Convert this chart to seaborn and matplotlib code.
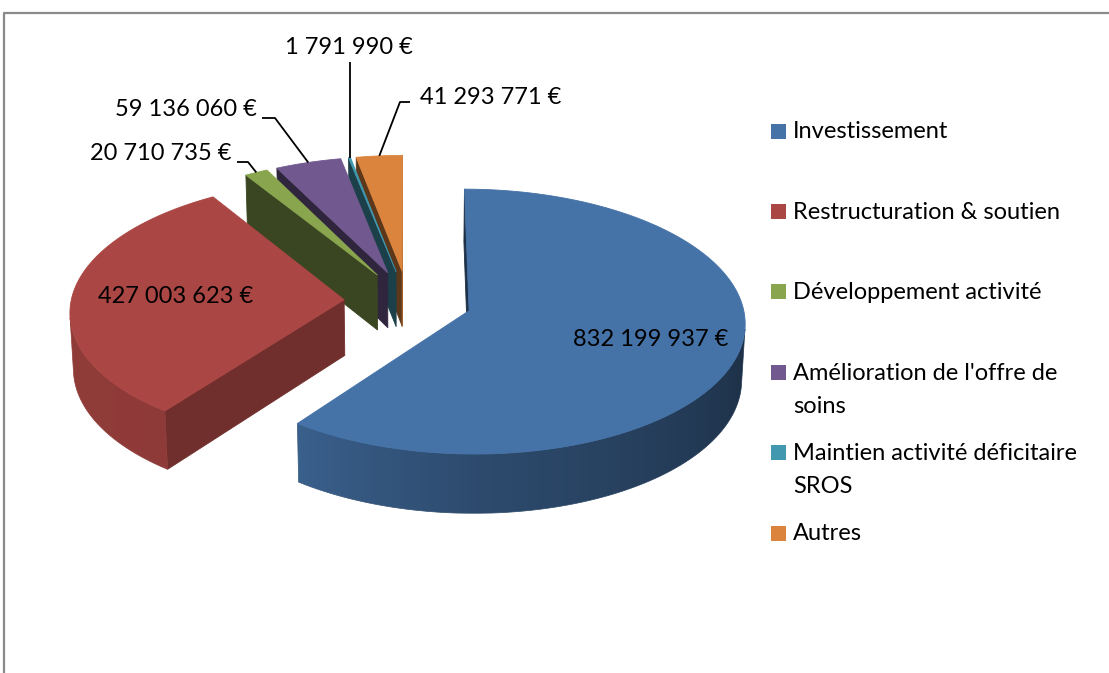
import numpy as np
import matplotlib
matplotlib.use("Agg")
import matplotlib.pyplot as plt
import matplotlib.colors as mcolors
from matplotlib.patches import Polygon, Rectangle
import seaborn as sns

# ---------------- data ----------------
categories = ["Investissement", "Restructuration & soutien", "Développement activité",
              "Amélioration de l'offre de soins", "Maintien activité déficitaire SROS", "Autres"]
legend_labels = ["Investissement", "Restructuration & soutien", "Développement activité",
                 "Amélioration de l'offre de\nsoins", "Maintien activité déficitaire\nSROS", "Autres"]
values = [832199937, 427003623, 20710735, 59136060, 1791990, 41293771]
colors = ["#4572A7", "#AA4643", "#89A54E", "#71588F", "#4198AF", "#DB843D"]

value_labels = [f"{v:,}".replace(",", " ") + " €" for v in values]

# ---------------- style ----------------
sns.set_theme(style="white")
plt.rcParams['font.family'] = ['Lato', 'DejaVu Sans']
FS = 17

W, HPX = 1109, 673
fig = plt.figure(figsize=(W / 100, HPX / 100), dpi=100)
ax = fig.add_axes([0, 0, 1, 1])

# frame
ax.plot([4, 4, W], [HPX, 13, 13], color="#8a8a8a", lw=1.6, zorder=0)

# ---------------- 3D projection ----------------
R, EXP, THICK = 273.0, 64.0, 64.0
SIN_A = 0.476
COS_A = np.sqrt(1 - SIN_A ** 2)
DIST = 2930.0
CX, CY = 408.0, 301.0
CAM = np.array([0.0, -DIST * COS_A, DIST * SIN_A])


def proj(X, Y, Z):
    X = np.asarray(X, float); Y = np.asarray(Y, float); Z = np.asarray(Z, float)
    v = Y * SIN_A + Z * COS_A
    w = Y * COS_A - Z * SIN_A
    s = DIST / (DIST + w)
    return CX + X * s, CY - v * s


def dirv(t):
    r = np.radians(t)
    return np.sin(r), np.cos(r)


def shade(c, f):
    rgb = np.array(mcolors.to_rgb(c))
    return tuple(np.clip(rgb * f, 0, 1))


def visible(pts, normal):
    c = np.mean(np.array(pts), axis=0)
    return np.dot(normal, CAM - c) > 0


def face(pts, color, z):
    P = np.array(pts)
    sx, sy = proj(P[:, 0], P[:, 1], P[:, 2])
    ax.add_patch(Polygon(np.c_[sx, sy], closed=True, facecolor=color, edgecolor=color,
                         lw=0.6, joinstyle='round', zorder=z))


vals = np.array(values, float)
fr = vals / vals.sum()
ends = np.cumsum(fr) * 360.0
starts = ends - fr * 360.0
mids = (starts + ends) / 2

offs = [(EXP * dirv(m)[0], EXP * dirv(m)[1]) for m in mids]
order = sorted(range(len(values)), key=lambda i: -offs[i][1])


def wall_factor(t):
    t = t % 360
    return np.interp(t, [0, 90, 180, 216.8, 270, 360], [0.39, 0.39, 0.66, 0.84, 0.85, 0.85])


for k, i in enumerate(order):
    z = 2 + k * 3
    t0, t1 = starts[i], ends[i]
    ox, oy = offs[i]
    col = colors[i]
    n = max(3, int((t1 - t0) / 0.5) + 2)
    th = np.linspace(t0, t1, n)
    rx = ox + R * np.sin(np.radians(th))
    ry = oy + R * np.cos(np.radians(th))
    # cut faces
    for tt, sgn in ((t0, -1), (t1, 1)):
        r_ = np.radians(tt)
        nrm = np.array([sgn * np.cos(r_), -sgn * np.sin(r_), 0.0])
        ex, ey = ox + R * np.sin(r_), oy + R * np.cos(r_)
        pts = [(ox, oy, 0), (ex, ey, 0), (ex, ey, -THICK), (ox, oy, -THICK)]
        if visible(pts, nrm):
            f = 0.42 + 0.3 * max(0.0, nrm[0])
            face(pts, shade(col, f), z)
    # outer wall: visible part as one polygon with a horizontal gradient
    vis = []
    for j in range(n):
        nrm = np.array([np.sin(np.radians(th[j])), np.cos(np.radians(th[j])), 0.0])
        vis.append(np.dot(nrm, CAM - np.array([rx[j], ry[j], -THICK / 2])) > 0)
    vis = np.array(vis)
    if vis.sum() >= 2:
        idx = np.where(vis)[0]
        tx_, ty_ = proj(rx[idx], ry[idx], np.zeros(len(idx)))
        bx_, by_ = proj(rx[idx], ry[idx], np.full(len(idx), -THICK))
        poly = np.r_[np.c_[tx_, ty_], np.c_[bx_, by_][::-1]]
        fac = wall_factor(th[idx])
        srt = np.argsort(tx_)
        x0, x1 = poly[:, 0].min(), poly[:, 0].max()
        y0, y1 = poly[:, 1].min(), poly[:, 1].max()
        gx = np.linspace(x0, x1, 600)
        gf = np.interp(gx, tx_[srt], fac[srt])
        base = np.array(mcolors.to_rgb(col))
        img = np.clip(gf[None, :, None] * base[None, None, :], 0, 1)
        im = ax.imshow(img, extent=(x0, x1, y1, y0), origin='upper', aspect='auto',
                       interpolation='bilinear', zorder=z + 0.5)
        clip = Polygon(poly, closed=True, facecolor='none', edgecolor='none', transform=ax.transData)
        im.set_clip_path(clip)
        mid_c = tuple(np.clip(base * fac.mean(), 0, 1))
        ax.add_patch(Polygon(poly, closed=True, facecolor='none', edgecolor=mid_c, lw=0.5, zorder=z + 0.4))
    # top
    pts = [(ox, oy, 0)] + [(a, b, 0) for a, b in zip(rx, ry)]
    face(pts, col, z + 1)

# ---------------- data labels ----------------
inside_frac = {0: 0.68, 1: 0.62}
for i, f in inside_frac.items():
    ox, oy = offs[i]
    dx, dy = dirv(mids[i])
    sx, sy = proj(ox + f * R * dx, oy + f * R * dy, 0)
    ax.text(sx, sy, value_labels[i], ha='center', va='center', fontsize=FS, color='black', zorder=50)

# outside labels: (text x, text y, ha, elbow points)
outside_layout = {
    2: (231, 153, 'right', [(237, 162), (248, 162)]),
    3: (257, 110, 'right', [(262, 118), (275, 118)]),
    4: (349, 47, 'center', None),
    5: (420, 97, 'left', [(410, 102), (400, 102)]),
}
for i, (tx, ty, ha, elbow) in outside_layout.items():
    ox, oy = offs[i]
    dx, dy = dirv(mids[i])
    axp, ayp = proj(ox + R * dx, oy + R * dy, 0)
    if elbow is None:
        pts = [(float(axp), 62.0), (float(axp), float(ayp))]
    else:
        pts = elbow + [(float(axp), float(ayp))]
    xs, ys = zip(*pts)
    ax.plot(xs, ys, color='black', lw=1.3, zorder=49, solid_capstyle='butt')
    ax.text(tx, ty, value_labels[i], ha=ha, va='center', fontsize=FS, color='black', zorder=50)

# ---------------- legend ----------------
LEG_X, LEG_Y0, LEG_DY, LINE_DY, SQ = 771, 131, 80.4, 33, 15
for i, lab in enumerate(legend_labels):
    y = LEG_Y0 + i * LEG_DY
    ax.add_patch(Rectangle((LEG_X, y - SQ / 2), SQ, SQ, facecolor=colors[i], edgecolor='none', zorder=50))
    for j, line in enumerate(lab.split("\n")):
        ax.text(LEG_X + 22, y + 1 + j * LINE_DY, line, ha='left', va='center', fontsize=FS,
                color='black', zorder=50)

ax.set_xlim(0, W)
ax.set_ylim(HPX, 0)
ax.axis('off')
fig.savefig("out.png", dpi=100)
